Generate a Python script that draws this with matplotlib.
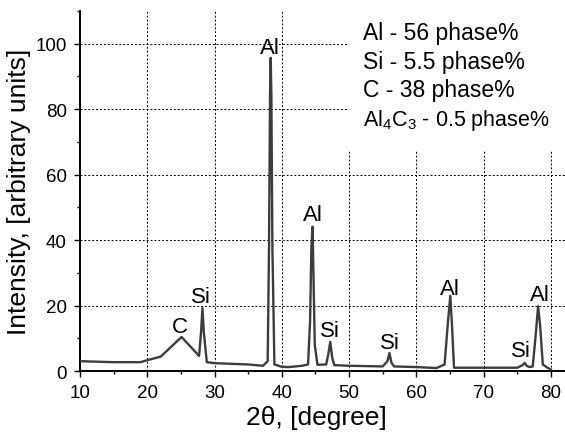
import matplotlib.pyplot as plt
from matplotlib.patches import Rectangle
from matplotlib.ticker import MultipleLocator

plt.rcParams['font.family'] = ['Liberation Sans', 'DejaVu Sans']
plt.rcParams['mathtext.fontset'] = 'custom'
plt.rcParams['mathtext.rm'] = 'Liberation Sans'
plt.rcParams['mathtext.it'] = 'Liberation Sans:italic'

# diffraction trace
two_theta = [10, 15, 19, 20, 22, 25.1, 27.7, 28.0, 28.2, 28.4, 28.85, 30, 35, 37.2, 37.9,
             38.1, 38.25, 38.35, 38.45, 38.6, 38.9, 40, 41, 43, 43.9, 44.2, 44.4,
             44.57, 44.7, 44.9, 45.3, 46.6, 46.9, 47.2, 47.5, 47.8, 50, 55, 55.7,
             56.0, 56.3, 56.7, 60, 63, 64.2, 64.7, 65.05, 65.3, 65.6, 70, 75, 75.8,
             76.1, 76.4, 76.8, 77.3, 77.7, 78.1, 78.4, 78.8, 79.5, 80]
intensity = [3.0, 2.7, 2.7, 3.3, 4.4, 10.4, 4.6, 12, 19.2, 12, 2.7, 2.4, 2.0, 1.6, 3.0,
             38, 84, 95.7, 84, 38, 2.0, 1.3, 1.2, 1.6, 2.0, 15, 38,
             44.1, 30, 8, 1.9, 2.0, 5, 8.9, 4, 1.8, 1.6, 1.4, 3,
             5.5, 2.5, 1.4, 1.2, 0.9, 2.0, 15, 23.0, 14, 1.0, 1.0, 1.0, 1.8,
             2.5, 1.6, 1.2, 1.4, 10, 19.8, 14, 2.0, 1.0, 0.5]

peak_labels = ['C', 'Si', 'Al', 'Al', 'Si', 'Si', 'Al', 'Si', 'Al']
peak_x = [24.9, 28.0, 38.3, 44.6, 47.2, 56.0, 65.05, 75.6, 78.4]
peak_y = [11.9, 21.0, 97.1, 46.1, 10.7, 7.0, 23.5, 4.6, 21.7]

phase_lines = ["Al - 56 phase%", "Si - 5.5 phase%", "C - 38 phase%",
               "Al$_4$C$_3$ - 0.5 phase%"]
phase_y = [101.4, 92.6, 83.9, 75.3]
phase_size = [16.5, 16.5, 16.5, 15.5]

fig = plt.figure(figsize=(5.65, 4.39), dpi=100)
ax = fig.add_axes([0.1416, 0.1526, 0.8584, 0.820])

ax.plot(two_theta, intensity, color='#3c3c3c', lw=1.7, zorder=3)

for lab, x, y in zip(peak_labels, peak_x, peak_y):
    ax.text(x, y, lab, ha='center', va='baseline', fontsize=16, zorder=4)

ax.set_xlim(10, 82.1)
ax.set_ylim(0, 110)
ax.xaxis.set_major_locator(MultipleLocator(10))
ax.xaxis.set_minor_locator(MultipleLocator(5))
ax.yaxis.set_major_locator(MultipleLocator(20))
ax.yaxis.set_minor_locator(MultipleLocator(10))
ax.tick_params(which='major', direction='out', length=4.5, width=1.0,
               labelsize=13.5, pad=5, colors='black')
ax.tick_params(which='minor', direction='out', length=2.5, width=1.0)
ax.spines['top'].set_visible(False)
ax.spines['right'].set_visible(False)
for s in ('left', 'bottom'):
    ax.spines[s].set_linewidth(1.4)

ax.grid(True, which='major', linestyle=(0, (2, 2)), color='black', lw=0.7)

# white block behind the phase list hides the grid there
ax.add_patch(Rectangle((49.85, 67.5), 40, 50, facecolor='white', edgecolor='none',
                       zorder=1.8))
for line, y, fs in zip(phase_lines, phase_y, phase_size):
    ax.text(52.0, y, line, ha='left', va='baseline', fontsize=fs, zorder=5)

ax.set_xlabel('2θ, [degree]', fontsize=19, labelpad=3, x=0.487)
ax.set_ylabel('Intensity, [arbitrary units]', fontsize=19, labelpad=3)

fig.savefig('out.png', dpi=100)
